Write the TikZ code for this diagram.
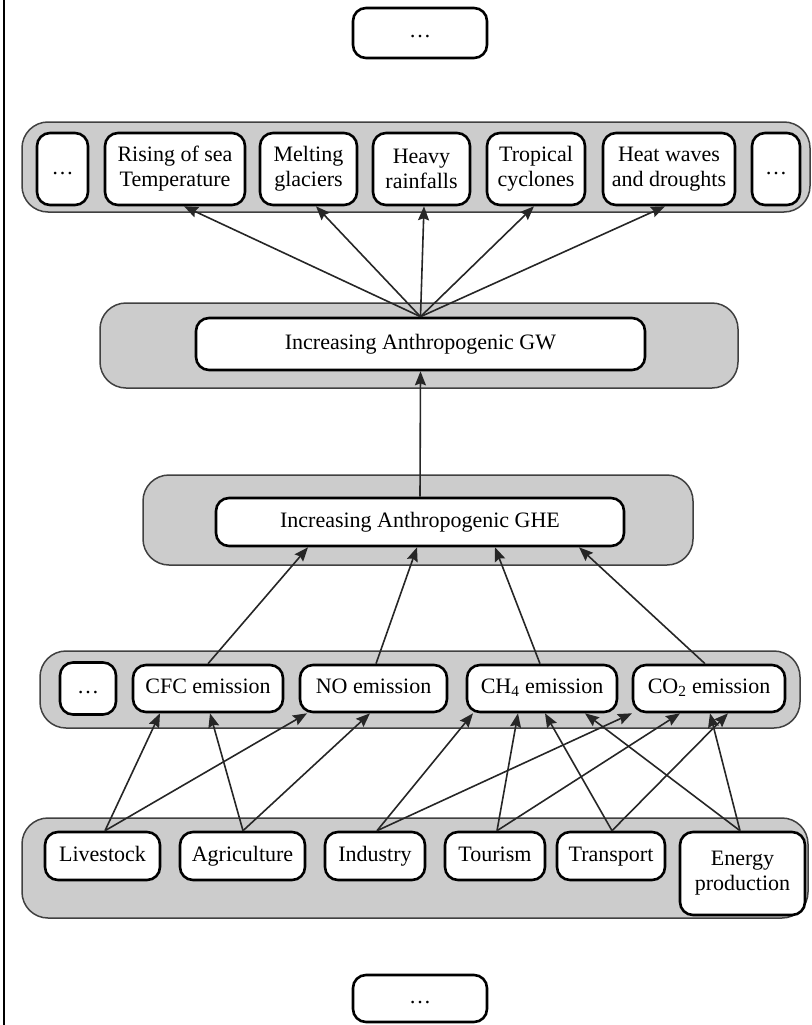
\documentclass[tikz,border=0pt]{standalone}
\usepackage{fontspec}
\setmainfont{Liberation Serif}
\newfontfamily\boxfont{Liberation Serif}
\usetikzlibrary{arrows.meta,calc}
\begin{document}
\begin{tikzpicture}[x=1pt,y=-1pt,
  font=\boxfont\fontsize{22}{25}\selectfont,
  group/.style={draw=black!75, line width=1.5pt, fill=black!20, rounded corners=26pt, inner sep=0pt},
  item/.style={draw=black, line width=2.6pt, fill=white, rounded corners=13pt, inner sep=0pt, align=center},
  one/.style={text height=15pt, text depth=5pt},
  link/.style={draw=black!85, line width=1.6pt, -{Stealth[length=14pt,width=11pt,inset=2pt]}},
]
\useasboundingbox (0,0) rectangle (811,1025);
\draw[line width=2pt] (4,0) coordinate (edgetop) -- (4,1025) coordinate (edgebot);

% top continuation box
\node[item, one, minimum width=134pt, minimum height=50pt] (moretop) at (420,33) {\dots};

% consequences
\node[group, minimum width=788pt, minimum height=90pt] (gcons) at (416,167) {};
\node[item, one, minimum width=51pt, minimum height=72pt] (cdotsl) at (62.5,169) {\dots};
\node[item, minimum width=140pt, minimum height=72pt] (rise) at (175,169) {Rising of sea\\Temperature};
\node[item, minimum width=97pt, minimum height=72pt] (melt) at (308.5,169) {Melting\\glaciers};
\node[item, minimum width=97pt, minimum height=72pt] (rain) at (421.5,169) {Heavy\\rainfalls};
\node[item, minimum width=98pt, minimum height=72pt] (cycl) at (536,169) {Tropical\\cyclones};
\node[item, minimum width=132pt, minimum height=72pt] (heat) at (669,169) {Heat waves\\and droughts};
\node[item, one, minimum width=48pt, minimum height=72pt] (cdotsr) at (776,169) {\dots};

% global warming
\node[group, minimum width=638pt, minimum height=85pt] (ggw) at (419,345.5) {};
\node[item, one, minimum width=449pt, minimum height=52pt] (gwb) at (420.5,344) {Increasing Anthropogenic GW};

% greenhouse effect
\node[group, minimum width=550pt, minimum height=90pt] (gghe) at (418,520) {};
\node[item, one, minimum width=408pt, minimum height=48pt] (gheb) at (420,522) {Increasing Anthropogenic GHE};

% emissions
\node[group, minimum width=760pt, minimum height=77pt] (gemi) at (420,689.5) {};
\node[item, one, minimum width=56pt, minimum height=52pt] (edots) at (88,688.5) {\dots};
\node[item, one, minimum width=150pt, minimum height=47pt] (cfc) at (208,688.5) {CFC emission};
\node[item, one, minimum width=147pt, minimum height=47pt] (no) at (373.5,688.5) {NO emission};
\node[item, one, minimum width=150pt, minimum height=47pt] (chf) at (542,688.5) {CH\textsubscript{4} emission};
\node[item, one, minimum width=152pt, minimum height=47pt] (cot) at (709,688.5) {CO\textsubscript{2} emission};

% sources
\node[group, minimum width=786pt, minimum height=100pt] (gsrc) at (415,868) {};
\node[item, one, minimum width=115pt, minimum height=48pt] (live) at (102.5,856) {Livestock};
\node[item, one, minimum width=125pt, minimum height=48pt] (agri) at (242.5,856) {Agriculture};
\node[item, one, minimum width=100pt, minimum height=48pt] (indu) at (375,856) {Industry};
\node[item, one, minimum width=100pt, minimum height=48pt] (tour) at (495,856) {Tourism};
\node[item, one, minimum width=108pt, minimum height=48pt] (tran) at (611,856) {Transport};
\node[item, minimum width=125pt, minimum height=83pt] (ener) at (742.5,873.5) {Energy\\production};

% bottom continuation box
\node[item, one, minimum width=134pt, minimum height=47pt] (morebot) at (420,998.5) {\dots};

% GW -> consequences
\draw[link] (gwb.north) -- ($(rise.south)+(9,0)$);
\draw[link] (gwb.north) -- ($(melt.south)+(7.5,0)$);
\draw[link] (gwb.north) -- ($(rain.south)+(2.5,0)$);
\draw[link] (gwb.north) -- ($(cycl.south)+(-2,0)$);
\draw[link] (gwb.north) -- ($(heat.south)+(-4,0)$);

% GHE -> GW
\draw[link] (gheb.north) -- (gwb.south);

% emissions -> GHE
\draw[link] (cfc.north) -- ($(gheb.south)+(-112,0)$);
\draw[link] ($(no.north)+(2.5,0)$) -- ($(gheb.south)+(-3,0)$);
\draw[link] ($(chf.north)+(-2,0)$) -- ($(gheb.south)+(75,0)$);
\draw[link] ($(cot.north)+(-4,0)$) -- ($(gheb.south)+(159,0)$);

% sources -> emissions
\draw[link] ($(live.north)+(2.5,0)$) -- ($(cfc.south)+(-48,0)$);
\draw[link] ($(live.north)+(2.5,0)$) -- ($(no.south)+(-66.5,0)$);
\draw[link] ($(agri.north)+(0.5,0)$) -- ($(cfc.south)+(2,0)$);
\draw[link] ($(agri.north)+(0.5,0)$) -- ($(no.south)+(-3.5,0)$);
\draw[link] ($(indu.north)+(2,0)$) -- ($(chf.south)+(-69,0)$);
\draw[link] ($(indu.north)+(2,0)$) -- ($(cot.south)+(-77,0)$);
\draw[link] ($(tour.north)+(2,0)$) -- ($(chf.south)+(-24,0)$);
\draw[link] ($(tour.north)+(2,0)$) -- ($(cot.south)+(-29,0)$);
\draw[link] ($(tran.north)+(1,0)$) -- ($(chf.south)+(3,0)$);
\draw[link] ($(tran.north)+(1,0)$) -- ($(cot.south)+(19,0)$);
\draw[link] ($(ener.north)+(-2.5,0)$) -- ($(chf.south)+(43,0)$);
\draw[link] ($(ener.north)+(-2.5,0)$) -- ($(cot.south)+(1,0)$);
\end{tikzpicture}
\end{document}
